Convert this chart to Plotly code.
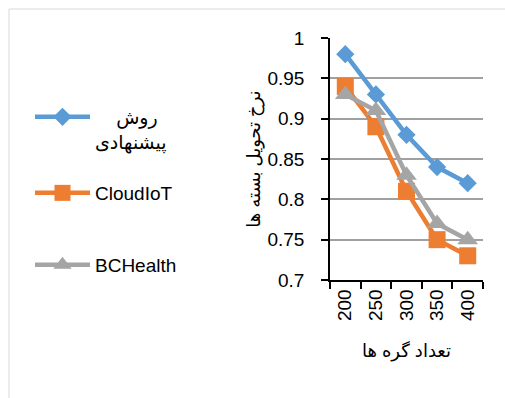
import plotly.graph_objects as go

categories = ["200", "250", "300", "350", "400"]
proposed = [0.98, 0.93, 0.88, 0.84, 0.82]
cloudiot = [0.94, 0.89, 0.81, 0.75, 0.73]
bchealth = [0.93, 0.91, 0.83, 0.77, 0.75]
series_names = ["\u00a0\u00a0\u00a0\u00a0روش<br>پیشنهادی", "CloudIoT", "BCHealth"]
y_title = "نرخ تحویل بسته ها"
x_title = "تعداد گره ها"

W, H = 505, 398
L, R, T, B = 330, 483, 38, 280  # plot area in px


def px_x(p):
    return (p - L) / (R - L)


def px_y(p):
    return (B - p) / (B - T)


FONT = "Liberation Sans, DejaVu Sans, sans-serif"
colors = ["#5B9BD5", "#ED7D31", "#A5A5A5"]
symbols = ["diamond", "square", "triangle-up"]
sizes = [14, 17, 18]
data = [proposed, cloudiot, bchealth]
legends = ["legend", "legend2", "legend3"]

fig = go.Figure()
for name, ys, c, s, sz, lg in zip(series_names, data, colors, symbols, sizes, legends):
    fig.add_trace(go.Scatter(
        x=categories, y=ys, name=name, mode="lines+markers",
        line=dict(color=c, width=4.5),
        marker=dict(symbol=s, size=sz, color=c),
        legend=lg,
    ))

legend_common = dict(font=dict(family=FONT, size=19, color="#000000"),
                     bgcolor="rgba(0,0,0,0)", borderwidth=0, itemwidth=55,
                     xanchor="left", x=px_x(30))

fig.update_layout(
    width=W, height=H,
    margin=dict(l=L, r=W - R, t=T, b=H - B, pad=0),
    paper_bgcolor="white", plot_bgcolor="white",
    font=dict(family=FONT, size=19, color="#000000"),
    showlegend=True,
    legend=dict(**legend_common, yanchor="top", y=px_y(98), valign="top"),
    legend2=dict(**legend_common, yanchor="middle", y=px_y(193)),
    legend3=dict(**legend_common, yanchor="middle", y=px_y(265)),
    xaxis=dict(
        type="category", range=[-0.5, 4.5],
        showline=True, linecolor="#000000", linewidth=1.5,
        ticks="outside", ticklen=7, tickcolor="#000000", tickwidth=1.5,
        tickson="boundaries", tickangle=-90, showgrid=False,
        tickfont=dict(family=FONT, size=19),
        title=dict(text=x_title, font=dict(family=FONT, size=18), standoff=24),
    ),
    yaxis=dict(
        range=[0.7, 1.0], dtick=0.05, tick0=0.7,
        showline=True, linecolor="#000000", linewidth=1.5,
        ticks="outside", ticklen=7, tickcolor="#000000", tickwidth=1.5,
        ticklabelstandoff=13,
        showgrid=True, gridcolor="#A0A0A0", gridwidth=1.5, zeroline=False,
        tickfont=dict(family=FONT, size=19),
        title=dict(text=y_title, font=dict(family=FONT, size=18), standoff=2),
    ),
    shapes=[dict(type="rect", xref="paper", yref="paper",
                 x0=px_x(9), x1=px_x(530), y0=px_y(420), y1=px_y(9),
                 line=dict(color="#D9D9D9", width=1), layer="below")],
)

fig.write_html("out.html", config={"displayModeBar": False},
               post_script="document.body.style.margin='0';")
